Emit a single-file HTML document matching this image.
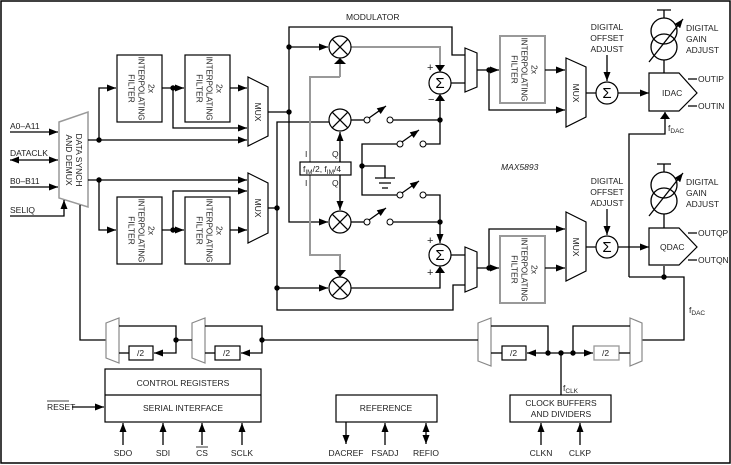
<!DOCTYPE html>
<html><head><meta charset="utf-8"><style>
html,body{margin:0;padding:0;background:#fff}
svg{display:block}
text{font-family:"Liberation Sans",sans-serif;font-size:8.5px;fill:#222}
.l{stroke:#000;stroke-width:1.3;fill:none}
.g{stroke:#999;stroke-width:2;fill:none}
.b{stroke:#000;stroke-width:1.2;fill:#fff}
.bg{stroke:#999;stroke-width:2;fill:#fff}
</style></head><body>
<svg width="731" height="465" viewBox="0 0 731 465" xmlns="http://www.w3.org/2000/svg">
<defs>
<marker id="a" markerWidth="9" markerHeight="7" refX="9" refY="3.5" orient="auto" markerUnits="userSpaceOnUse"><path d="M0,0L9,3.5L0,7z" fill="#000"/></marker>
<marker id="as" markerWidth="9" markerHeight="7" refX="0" refY="3.5" orient="auto" markerUnits="userSpaceOnUse"><path d="M9,0L0,3.5L9,7z" fill="#000"/></marker>
<g id="mul"><circle r="11" class="b"/><path d="M-7.8,-7.8L7.8,7.8M7.8,-7.8L-7.8,7.8" class="l"/></g>
<g id="sig"><circle r="11" class="b"/><text x="0" y="5" text-anchor="middle" style="font-size:15px;fill:#000">Σ</text></g>
</defs>
<rect x="1" y="1" width="729" height="462" fill="none" stroke="#000" stroke-width="1.5"/>

<!-- demux -->
<polygon points="59,122 88,112 88,207 59,198" class="b" style="stroke:#999;stroke-width:1.5"/>
<g transform="translate(73,160) rotate(90)"><text x="0" y="-3" text-anchor="middle">DATA SYNCH</text><text x="0" y="7" text-anchor="middle">AND DEMUX</text></g>
<text x="10" y="129">A0–A11</text><path d="M10,132H58" class="l" marker-end="url(#a)"/>
<text x="10" y="156">DATACLK</text><path d="M10,160H58" class="l" marker-end="url(#a)" marker-start="url(#as)"/>
<text x="10" y="184">B0–B11</text><path d="M10,187H58" class="l" marker-end="url(#a)"/>
<text x="10" y="213">SELIQ</text><path d="M10,216H64V200" class="l" marker-end="url(#a)"/>
<path d="M80,205V340H106" class="l"/>

<!-- upper path -->
<path d="M88,140H99V88H116" class="l" marker-end="url(#a)"/>
<path d="M99,140H247" class="l" marker-end="url(#a)"/>
<path d="M162,88H184" class="l" marker-end="url(#a)"/>
<path d="M173,88V128H247" class="l" marker-end="url(#a)"/>
<path d="M230,88H247" class="l" marker-end="url(#a)"/>
<!-- lower path -->
<path d="M88,180H247" class="l" marker-end="url(#a)"/>
<path d="M99,180V230H116" class="l" marker-end="url(#a)"/>
<path d="M162,230H184" class="l" marker-end="url(#a)"/>
<path d="M173,230V191H247" class="l" marker-end="url(#a)"/>
<path d="M230,230H247" class="l" marker-end="url(#a)"/>
<g fill="#000"><circle cx="99" cy="140" r="2.7"/><circle cx="99" cy="180" r="2.7"/><circle cx="173" cy="88" r="2.7"/><circle cx="173" cy="230" r="2.7"/></g>

<!-- filters -->
<g>
<rect x="117" y="55" width="45" height="67" class="b"/><rect x="185" y="55" width="45" height="67" class="b"/>
<rect x="117" y="197" width="45" height="67" class="b"/><rect x="185" y="197" width="45" height="67" class="b"/>
<rect x="500" y="36" width="45" height="67" class="bg"/><rect x="500" y="236" width="45" height="67" class="bg"/>
</g>
<g transform="translate(139.5,88.5) rotate(90)"><text x="0" y="-9" text-anchor="middle">2x</text><text x="0" y="1" text-anchor="middle" style="font-size:8px">INTERPOLATING</text><text x="0" y="11" text-anchor="middle">FILTER</text></g>
<g transform="translate(207.5,88.5) rotate(90)"><text x="0" y="-9" text-anchor="middle">2x</text><text x="0" y="1" text-anchor="middle" style="font-size:8px">INTERPOLATING</text><text x="0" y="11" text-anchor="middle">FILTER</text></g>
<g transform="translate(139.5,230.5) rotate(90)"><text x="0" y="-9" text-anchor="middle">2x</text><text x="0" y="1" text-anchor="middle" style="font-size:8px">INTERPOLATING</text><text x="0" y="11" text-anchor="middle">FILTER</text></g>
<g transform="translate(207.5,230.5) rotate(90)"><text x="0" y="-9" text-anchor="middle">2x</text><text x="0" y="1" text-anchor="middle" style="font-size:8px">INTERPOLATING</text><text x="0" y="11" text-anchor="middle">FILTER</text></g>
<g transform="translate(522.5,69.5) rotate(90)"><text x="0" y="-9" text-anchor="middle">2x</text><text x="0" y="1" text-anchor="middle" style="font-size:8px">INTERPOLATING</text><text x="0" y="11" text-anchor="middle">FILTER</text></g>
<g transform="translate(522.5,269.5) rotate(90)"><text x="0" y="-9" text-anchor="middle">2x</text><text x="0" y="1" text-anchor="middle" style="font-size:8px">INTERPOLATING</text><text x="0" y="11" text-anchor="middle">FILTER</text></g>

<!-- muxes -->
<polygon points="248,77 268,87 268,136 248,146" class="b"/>
<polygon points="248,173 268,183 268,233 248,243" class="b"/>
<polygon points="566,58 586,67 586,117 566,127" class="b"/>
<polygon points="566,212 586,222 586,271 566,281" class="b"/>
<g transform="translate(258,112) rotate(90)"><text x="0" y="3" text-anchor="middle">MUX</text></g>
<g transform="translate(258,208) rotate(90)"><text x="0" y="3" text-anchor="middle">MUX</text></g>
<g transform="translate(576,93) rotate(90)"><text x="0" y="3" text-anchor="middle">MUX</text></g>
<g transform="translate(576,247) rotate(90)"><text x="0" y="3" text-anchor="middle">MUX</text></g>
<!-- mod muxes -->
<polygon points="465,48 477,53 477,87 465,92" class="b"/>
<polygon points="465,247 477,252 477,287 465,292" class="b"/>

<!-- modulator -->
<text x="346" y="20">MODULATOR</text>
<path d="M268,112H289" class="l"/>
<path d="M289,112V27H452V55H465" class="l"/>
<path d="M289,47H328" class="l" marker-end="url(#a)"/>
<path d="M289,112V222H328" class="l" marker-end="url(#a)"/>
<path d="M268,208H277" class="l"/>
<path d="M329,122H277V310H453V285H465" class="l"/>
<path d="M277,288H328" class="l" marker-end="url(#a)"/>
<path d="M340,77H310V255H340V276" class="g"/>
<path d="M340,77V59" class="g"/>
<path d="M334,64L340,58L346,64z" fill="#000"/>
<path d="M334,270L340,277L346,270z" fill="#000"/>
<path d="M351,47H440V71" class="g"/>
<path d="M435,65L440,72L445,65z" fill="#000"/>
<use href="#mul" x="340" y="47"/><use href="#mul" x="340" y="120"/><use href="#mul" x="340" y="222"/><use href="#mul" x="340" y="288"/>
<path d="M340,162V132" class="l" marker-end="url(#a)"/>
<path d="M340,175V210" class="l" marker-end="url(#a)"/>
<rect x="300" y="162" width="51" height="13" class="b"/>
<text x="303" y="172">f<tspan style="font-size:6.5px" dy="2">IM</tspan><tspan dy="-2">/2, f</tspan><tspan style="font-size:6.5px" dy="2">IM</tspan><tspan dy="-2">/4</tspan></text>
<g style="fill:#8b3a2a"><text x="305" y="157">I</text><text x="305" y="186">I</text></g>
<text x="332" y="157">Q</text><text x="332" y="186">Q</text>
<!-- switches -->
<g class="l">
<path d="M351,120H364"/><path d="M393,120H440V95"/>
<path d="M351,222H364"/><path d="M393,222H440"/>
<path d="M397,144H362V195H397"/><path d="M426,144H440V120"/><path d="M426,195H440V222"/>
<path d="M362,166H385V178"/><path d="M375,178H395M379,183H391M382,188H388"/>
<path d="M351,288H440V267"/>
</g>
<path d="M440,222V243" class="l" marker-end="url(#a)"/>
<path d="M435,101L440,94L445,101z" fill="#000"/>
<path d="M435,273L440,266L445,273z" fill="#000"/>
<g fill="#fff" stroke="#000" stroke-width="1">
<circle cx="367" cy="120" r="3"/><circle cx="390" cy="120" r="3"/>
<circle cx="400" cy="144" r="3"/><circle cx="423" cy="144" r="3"/>
<circle cx="400" cy="195" r="3"/><circle cx="423" cy="195" r="3"/>
<circle cx="367" cy="222" r="3"/><circle cx="390" cy="222" r="3"/>
</g>
<g class="l"><path d="M369,118L386,106" marker-end="url(#a)"/><path d="M402,142L419,130" marker-end="url(#a)"/><path d="M402,193L419,181" marker-end="url(#a)"/><path d="M369,220L386,208" marker-end="url(#a)"/></g>
<g fill="#000"><circle cx="289" cy="47" r="2.7"/><circle cx="289" cy="112" r="2.7"/><circle cx="277" cy="208" r="2.7"/><circle cx="277" cy="288" r="2.7"/><circle cx="440" cy="120" r="2.7"/><circle cx="440" cy="222" r="2.7"/><circle cx="362" cy="166" r="2.7"/><circle cx="489" cy="70" r="2.7"/><circle cx="489" cy="268" r="2.7"/></g>
<use href="#sig" x="440" y="83"/><use href="#sig" x="440" y="255"/>
<text x="427" y="71" style="font-size:11px">+</text><text x="428" y="103" style="font-size:11px">−</text>
<text x="427" y="244" style="font-size:11px">+</text><text x="427" y="276" style="font-size:11px">+</text>
<path d="M451,83H465M451,255H465" class="l"/>

<!-- output side -->
<path d="M477,70H499" class="l" marker-end="url(#a)"/>
<path d="M489,70V110H565" class="l" marker-end="url(#a)"/>
<path d="M545,70H565" class="l" marker-end="url(#a)"/>
<path d="M477,268H499" class="l" marker-end="url(#a)"/>
<path d="M489,268V229H565" class="l" marker-end="url(#a)"/>
<path d="M545,268H565" class="l" marker-end="url(#a)"/>
<path d="M586,93H597M586,247H597" class="l"/>
<use href="#sig" x="607" y="93"/><use href="#sig" x="607" y="247"/>
<g text-anchor="middle"><text x="607" y="30">DIGITAL</text><text x="607" y="41">OFFSET</text><text x="607" y="52">ADJUST</text>
<text x="607" y="184">DIGITAL</text><text x="607" y="195">OFFSET</text><text x="607" y="206">ADJUST</text></g>
<path d="M607,55V81" class="l" marker-end="url(#a)"/>
<path d="M607,209V235" class="l" marker-end="url(#a)"/>
<path d="M618,93H649" class="l" marker-end="url(#a)"/>
<path d="M618,247H649" class="l" marker-end="url(#a)"/>
<polygon points="649,73 679,73 697,93 679,111 649,111" class="b"/>
<polygon points="649,228 679,228 697,247 679,265 649,265" class="b"/>
<text x="662" y="96">IDAC</text><text x="660" y="250">QDAC</text>
<path d="M688,79H697M688,106H697M688,233H697M688,260H697" class="l"/>
<text x="698" y="82">OUTIP</text><text x="698" y="109">OUTIN</text><text x="698" y="236">OUTQP</text><text x="698" y="263">OUTQN</text>
<!-- current sources -->
<g class="l"><path d="M657,10H671M664,10V18M664,60V73"/><circle cx="664" cy="31" r="13"/><circle cx="664" cy="47" r="13"/><path d="M649,62L683,19" marker-end="url(#a)"/>
<path d="M657,164H671M664,164V172M664,214V228"/><circle cx="664" cy="185" r="13"/><circle cx="664" cy="201" r="13"/><path d="M649,216L683,173" marker-end="url(#a)"/></g>
<text x="686" y="31">DIGITAL</text><text x="686" y="42">GAIN</text><text x="686" y="53">ADJUST</text>
<text x="686" y="185">DIGITAL</text><text x="686" y="196">GAIN</text><text x="686" y="207">ADJUST</text>
<path d="M664,277V266M629,277H684V340H642M629,277V134H665V112" class="l"/>
<path d="M660,119L665,112L670,119z" fill="#000"/>
<circle cx="664" cy="277" r="2.7" fill="#000"/>
<text x="668" y="131">f<tspan style="font-size:6.5px" dy="2">DAC</tspan></text>
<text x="689" y="313">f<tspan style="font-size:6.5px" dy="2">DAC</tspan></text>
<text x="501" y="170" style="font-style:italic">MAX5893</text>

<!-- clock dividers -->
<polygon points="106,323 119,318 119,363 106,358" class="b" style="stroke:#888"/>
<polygon points="192,323 205,318 205,363 192,358" class="b" style="stroke:#888"/>
<polygon points="478,323 491,318 491,366 478,361" class="b" style="stroke:#888"/>
<polygon points="630,318 642,323 642,361 630,366" class="b" style="stroke:#888"/>
<rect x="129" y="346" width="24" height="14" class="b"/><text x="137" y="356">/2</text>
<rect x="215" y="346" width="25" height="14" class="b"/><text x="223" y="356">/2</text>
<rect x="502" y="346" width="24" height="14" class="b"/><text x="510" y="356">/2</text>
<rect x="594" y="346" width="25" height="14" class="bg" style="stroke-width:1.3"/><text x="602" y="356">/2</text>
<g class="l">
<path d="M119,326H176V340H192"/><path d="M119,353H129"/>
<path d="M205,326H262V340H478"/><path d="M205,353H215"/>
<path d="M491,326H548V353"/><path d="M491,353H502"/>
<path d="M630,326H573V353"/><path d="M619,353H630"/>
<path d="M561,353V395"/>
</g>
<path d="M176,340V353H154" class="l" marker-end="url(#a)"/>
<path d="M262,340V353H241" class="l" marker-end="url(#a)"/>
<path d="M548,353H527" class="l" marker-end="url(#a)"/>
<path d="M548,353H593" class="l" marker-end="url(#a)"/>
<g fill="#000"><circle cx="176" cy="340" r="2.7"/><circle cx="262" cy="340" r="2.7"/><circle cx="548" cy="353" r="2.7"/><circle cx="561" cy="353" r="2.7"/><circle cx="573" cy="353" r="2.7"/></g>
<text x="563" y="391">f<tspan style="font-size:6.5px" dy="2">CLK</tspan></text>

<!-- bottom boxes -->
<rect x="105" y="369" width="156" height="53" class="b"/><path d="M105,395H261" class="l"/>
<text x="183" y="386" text-anchor="middle">CONTROL REGISTERS</text>
<text x="183" y="411" text-anchor="middle">SERIAL INTERFACE</text>
<text x="47" y="410">RESET</text><path d="M47,401H69" stroke="#000" stroke-width="0.8"/>
<path d="M72,407H104" class="l" marker-end="url(#a)"/>
<g class="l"><path d="M123,445V423" marker-end="url(#a)"/><path d="M163,445V423" marker-end="url(#a)"/><path d="M202,445V423" marker-end="url(#a)"/><path d="M242,445V423" marker-end="url(#a)"/></g>
<g text-anchor="middle"><text x="123" y="456">SDO</text><text x="163" y="456">SDI</text><text x="202" y="456">CS</text><text x="242" y="456">SCLK</text></g>
<path d="M196,447H208" stroke="#000" stroke-width="0.8"/>
<rect x="336" y="395" width="101" height="27" class="b"/>
<text x="386" y="411" text-anchor="middle">REFERENCE</text>
<g class="l"><path d="M346,422V444" marker-end="url(#a)"/><path d="M385,445V423" marker-end="url(#a)"/><path d="M426,423V444" marker-end="url(#a)" marker-start="url(#as)"/></g>
<g text-anchor="middle"><text x="346" y="456">DACREF</text><text x="385" y="456">FSADJ</text><text x="426" y="456">REFIO</text></g>
<rect x="510" y="395" width="101" height="27" class="b"/>
<text x="561" y="406" text-anchor="middle">CLOCK BUFFERS</text>
<text x="561" y="417" text-anchor="middle">AND DIVIDERS</text>
<g class="l"><path d="M541,445V423" marker-end="url(#a)"/><path d="M580,445V423" marker-end="url(#a)"/></g>
<g text-anchor="middle"><text x="541" y="456">CLKN</text><text x="580" y="456">CLKP</text></g>
</svg>
</body></html>
